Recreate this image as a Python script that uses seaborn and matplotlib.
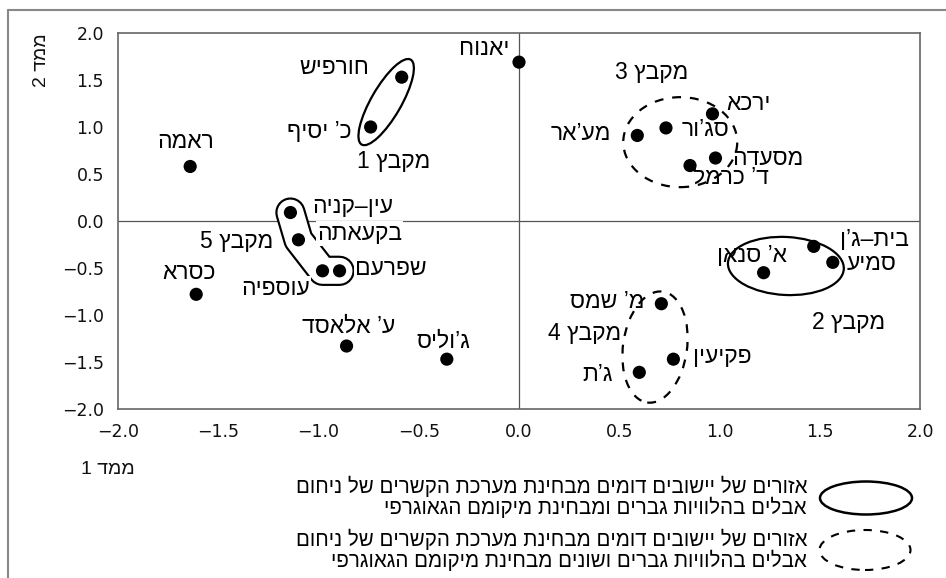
import matplotlib
matplotlib.use("Agg")
import matplotlib.pyplot as plt
import matplotlib.patheffects as pe
from matplotlib.patches import Ellipse
from matplotlib.transforms import ScaledTranslation
from matplotlib.lines import Line2D
from matplotlib.ticker import FuncFormatter
import seaborn as sns
import pandas as pd
import numpy as np

# settlements and their two MDS dimensions
settlements = ["חורפיש", "כ’ יסיף", "ראמה", "עין–קניה", "בקעאתה", "עוספיה", "שפרעם",
               "כסרא", "ע’ אלאסד", "ג’וליס", "יאנוח", "ירכא", "סג’ור", "מע’אר",
               "מסעדה", "ד’ כרמל", "בית–ג’ן", "סמיע", "א’ סנאן", "מ’ שמס", "פקיעין", "ג’ת"]
dim1 = [-0.585, -0.74, -1.64, -1.14, -1.10, -0.98, -0.895,
        -1.61, -0.86, -0.36, 0.00, 0.965, 0.733, 0.59,
        0.98, 0.853, 1.47, 1.565, 1.22, 0.71, 0.77, 0.60]
dim2 = [1.53, 1.00, 0.58, 0.09, -0.20, -0.53, -0.53,
        -0.78, -1.33, -1.47, 1.69, 1.14, 0.99, 0.91,
        0.67, 0.59, -0.27, -0.44, -0.55, -0.88, -1.47, -1.61]
cluster = [1, 1, 0, 5, 5, 5, 5,
           0, 0, 0, 0, 3, 3, 3,
           3, 3, 2, 2, 2, 4, 4, 4]

cluster_titles = ["מקבץ 1", "מקבץ 2", "מקבץ 3", "מקבץ 4", "מקבץ 5"]
ticks = [-2.0, -1.5, -1.0, -0.5, 0.0, 0.5, 1.0, 1.5, 2.0]

legend_solid = "אזורים של יישובים דומים מבחינת מערכת הקשרים של ניחום\nאבלים בהלוויות גברים ומבחינת מיקומם הגאוגרפי"
legend_dashed = "אזורים של יישובים דומים מבחינת מערכת הקשרים של ניחום\nאבלים בהלוויות גברים ושונים מבחינת מיקומם הגאוגרפי"

# label offsets from each dot, in pixels (layout only)
label_offsets = [(-67, 10), (-51, -4), (-5, 25), (62, 6), (61, 6), (-47, -18), (51, 2),
                 (-7, 22), (2, 20), (-4, 18), (-35, 14), (36, 10), (40, -2), (-56, 2),
                 (52, 0), (41, -12), (61, 7), (39, -1), (-12, 17), (-54, 2), (49, 3), (-42, -2)]
title_pos = [(-0.623, 0.628), (1.646, -1.085), (0.663, 1.585), (0.329, -1.20), (-1.406, -0.213)]


def rtl(s):
    # matplotlib has no bidi support, so lay hebrew out in visual order
    return "\n".join(line[::-1] for line in s.split("\n"))


df = pd.DataFrame({"name": settlements, "dim1": dim1, "dim2": dim2, "cluster": cluster})

sns.set_style("white")
plt.rcParams["font.family"] = ["Liberation Sans", "DejaVu Sans"]

fig = plt.figure(figsize=(9.46, 5.78), dpi=100)
ax = fig.add_axes([118 / 946, 1 - 409 / 578, 802 / 946, 376 / 578])

ax.axhline(0, color="#555555", lw=0.9, zorder=1)
ax.axvline(0, color="#555555", lw=0.9, zorder=1)

sns.scatterplot(data=df, x="dim1", y="dim2", color="black", s=90, edgecolor="none",
                legend=False, zorder=5, ax=ax)

for (name, x, y), (dx, dy) in zip(df[["name", "dim1", "dim2"]].values, label_offsets):
    ax.annotate(rtl(name), (x, y), xytext=(dx, dy), textcoords="offset pixels",
                ha="center", va="center", fontsize=16.5, color="black", zorder=3,
                bbox=dict(boxstyle="square,pad=0.04", fc="white", ec="none"))

for t, (x, y) in zip(cluster_titles, title_pos):
    ax.text(x, y, rtl(t), ha="center", va="center", fontsize=16.5, color="black", zorder=3)

# cluster 5 is a bent capsule around its members
c5 = df[df.cluster == 5]
ax.plot(c5.dim1, c5.dim2, color="white", lw=18.7, solid_capstyle="round",
        solid_joinstyle="round", zorder=2.5,
        path_effects=[pe.Stroke(linewidth=21.8, foreground="black"), pe.Normal()])

# ellipses around the other clusters: (cluster, dx px, dy px, w px, h px, angle, style)
shapes = [(1, 0, 0, 98, 30, 60, "-"),
          (2, -17.5, -5.5, 116, 58, -3, "-"),
          (3, -4, -2, 114, 90, 0, (0, (4, 4))),
          (4, -3, -2, 64, 112, -8, (0, (4, 4)))]
for c, dx, dy, w, h, ang, ls in shapes:
    m = df[df.cluster == c]
    tr = fig.dpi_scale_trans + ScaledTranslation(m.dim1.mean(), m.dim2.mean(), ax.transData)
    ax.add_patch(Ellipse((dx / 100, dy / 100), w / 100, h / 100, angle=ang, transform=tr,
                         fill=False, ec="black", lw=1.6, ls=ls, zorder=4, clip_on=False))

ax.set_xlim(-2, 2)
ax.set_ylim(-2, 2)
ax.set_xticks(ticks)
ax.set_yticks(ticks)
fmt = FuncFormatter(lambda v, p: f"{v:.1f}".replace("-", "−"))
ax.xaxis.set_major_formatter(fmt)
ax.yaxis.set_major_formatter(fmt)
ax.tick_params(direction="out", length=5, width=1, color="#555555", labelsize=12.5,
               labelcolor="#111111", pad=5)
for lab in ax.get_xticklabels() + ax.get_yticklabels():
    lab.set_family("DejaVu Sans")
for sp in ax.spines.values():
    sp.set_color("#666666")
    sp.set_linewidth(1.2)
ax.set_xlabel("")
ax.set_ylabel("")

inch = fig.dpi_scale_trans
fig.text(0.41, 5.18, rtl("ממד 2"), rotation=90, ha="center", va="center",
         fontsize=14, color="#111111", transform=inch)
fig.text(1.08, 1.08, rtl("ממד 1"), ha="center", va="center",
         fontsize=14, color="#111111", transform=inch)

# legend
fig.add_artist(Ellipse((8.66, 0.80), 0.92, 0.33, transform=inch, fill=False,
                       ec="black", lw=1.8))
fig.add_artist(Ellipse((8.65, 0.28), 0.91, 0.40, transform=inch, fill=False,
                       ec="black", lw=1.5, ls=(0, (4, 4))))
fig.text(8.07, 0.81, rtl(legend_solid), ha="right", va="center", multialignment="right",
         fontsize=14.8, linespacing=0.95, color="black", transform=inch)
fig.text(8.07, 0.28, rtl(legend_dashed), ha="right", va="center", multialignment="right",
         fontsize=14.8, linespacing=0.95, color="black", transform=inch)

# outer frame (top and left edges visible)
fig.add_artist(Line2D([0.08, 9.46], [5.68, 5.68], transform=inch, color="#888888", lw=1.5))
fig.add_artist(Line2D([0.08, 0.08], [0, 5.68], transform=inch, color="#888888", lw=1.5))

fig.savefig("out.png", dpi=100)
